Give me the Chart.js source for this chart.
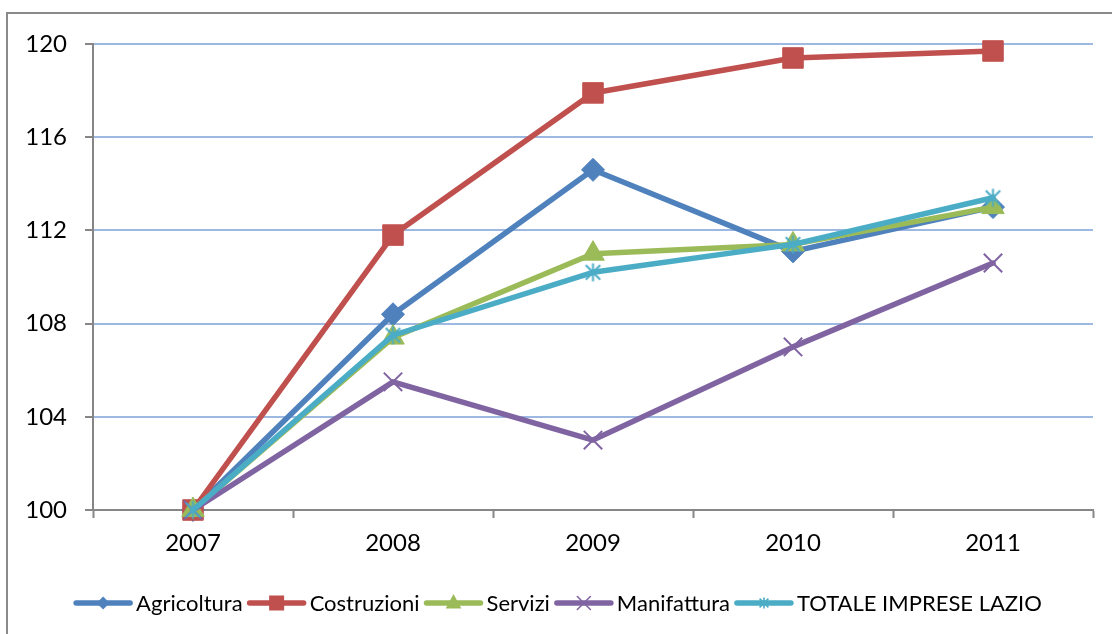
<!DOCTYPE html>
<html>
<head>
<meta charset="utf-8">
<script src="https://cdn.jsdelivr.net/npm/chart.js@4.4.1/dist/chart.umd.min.js"></script>
<style>
  html, body { margin: 0; padding: 0; background: #ffffff; }
  #wrap { position: absolute; left: 0; top: 0; width: 1112px; height: 634px; }
</style>
</head>
<body>
<div id="wrap"><canvas id="c" width="1112" height="634"></canvas></div>
<script>
// ---- data ----
const years = ['2007', '2008', '2009', '2010', '2011'];
const agricoltura = [100, 108.4, 114.6, 111.1, 113.0];
const costruzioni = [100, 111.8, 117.9, 119.4, 119.7];
const servizi     = [100, 107.4, 111.0, 111.4, 113.0];
const manifattura = [100, 105.5, 103.0, 107.0, 110.6];
const totale      = [100, 107.5, 110.2, 111.4, 113.4];
const seriesNames = ['Agricoltura', 'Costruzioni', 'Servizi', 'Manifattura', 'TOTALE IMPRESE LAZIO'];
const yTicks = [100, 104, 108, 112, 116, 120];

const colors = ['#4F81BD', '#C0504D', '#9BBB59', '#8064A2', '#4BACC6'];
const FONT = 'Lato, "Open Sans", sans-serif';

function makeAsterisk(color, size, lw) {
  const c = document.createElement('canvas');
  c.width = size; c.height = size;
  const g = c.getContext('2d');
  g.strokeStyle = color; g.lineWidth = lw; g.lineCap = 'butt';
  const m = size / 2, p = 1.5;
  g.beginPath();
  g.moveTo(m, p); g.lineTo(m, size - p);
  const d = (size / 2 - p) * 0.8;
  g.moveTo(m - d, m - d); g.lineTo(m + d, m + d);
  g.moveTo(m + d, m - d); g.lineTo(m - d, m + d);
  g.stroke();
  return c;
}
const asteriskBig = makeAsterisk(colors[4], 21, 2);
const asteriskSmall = makeAsterisk(colors[4], 14, 1.6);

const seriesData = [agricoltura, costruzioni, servizi, manifattura, totale];
const pointStyles = ['rectRot', 'rect', 'triangle', 'crossRot', asteriskBig];
const pointRadii = [11.5, 14.5, 13, 13, 10];
const pointBW = [1, 1, 1, 2, 2];

const datasets = seriesData.map((d, i) => ({
  label: seriesNames[i],
  data: d,
  borderColor: colors[i],
  backgroundColor: colors[i],
  borderWidth: 5.5,
  borderJoinStyle: 'round',
  borderCapStyle: 'round',
  pointStyle: pointStyles[i],
  pointRadius: pointRadii[i],
  pointHoverRadius: pointRadii[i],
  pointBorderWidth: pointBW[i],
  pointBackgroundColor: colors[i],
  pointBorderColor: colors[i],
  tension: 0,
  order: 5 - i,
  clip: false
}));

// frame + background
const framePlugin = {
  id: 'frame',
  beforeDraw(chart) {
    const ctx = chart.ctx;
    ctx.save();
    ctx.fillStyle = '#ffffff';
    ctx.fillRect(0, 0, chart.width, chart.height);
    ctx.strokeStyle = '#8a8a8a';
    ctx.lineWidth = 2;
    ctx.strokeRect(7, 13, 1200, 700);
    ctx.restore();
  }
};

function drawLegendMarker(ctx, i, x, y) {
  const col = colors[i];
  ctx.save();
  ctx.fillStyle = col; ctx.strokeStyle = col;
  if (i === 0) {
    const r = 6.5;
    ctx.beginPath();
    ctx.moveTo(x, y - r); ctx.lineTo(x + r, y); ctx.lineTo(x, y + r); ctx.lineTo(x - r, y); ctx.closePath();
    ctx.fill();
  } else if (i === 1) {
    const s = 7.5;
    ctx.fillRect(x - s, y - s, 2 * s, 2 * s);
  } else if (i === 2) {
    const r = 9;
    ctx.beginPath();
    ctx.moveTo(x, y - r); ctx.lineTo(x + r * 0.87, y + r * 0.6); ctx.lineTo(x - r * 0.87, y + r * 0.6); ctx.closePath();
    ctx.fill();
  } else if (i === 3) {
    const d = 6.5;
    ctx.lineWidth = 1.6;
    ctx.beginPath();
    ctx.moveTo(x - d, y - d); ctx.lineTo(x + d, y + d);
    ctx.moveTo(x + d, y - d); ctx.lineTo(x - d, y + d);
    ctx.stroke();
  } else {
    ctx.drawImage(asteriskSmall, x - 7, y - 7);
  }
  ctx.restore();
}

const legendPlugin = {
  id: 'customLegend',
  afterDraw(chart) {
    const ctx = chart.ctx;
    ctx.save();
    ctx.font = '22px ' + FONT;
    ctx.textBaseline = 'middle';
    const lineLen = 58, gapText = 4, gapItem = 5;
    const widths = seriesNames.map(n => ctx.measureText(n).width);
    let total = 0;
    widths.forEach(w => { total += lineLen + gapText + w; });
    total += gapItem * (seriesNames.length - 1);
    let x = (chart.width - total) / 2 + 2;
    const y = 603;
    seriesNames.forEach((n, i) => {
      ctx.strokeStyle = colors[i];
      ctx.lineWidth = 5.5;
      ctx.lineCap = 'round';
      ctx.beginPath();
      ctx.moveTo(x + 2, y); ctx.lineTo(x + lineLen - 2, y);
      ctx.stroke();
      drawLegendMarker(ctx, i, x + lineLen / 2, y);
      ctx.fillStyle = '#000000';
      ctx.textAlign = 'left';
      ctx.fillText(n, x + lineLen + gapText, y + 1);
      x += lineLen + gapText + widths[i] + gapItem;
    });
    ctx.restore();
  }
};

new Chart(document.getElementById('c'), {
  type: 'line',
  data: { labels: years, datasets: datasets },
  options: {
    responsive: false,
    animation: false,
    events: [],
    layout: { padding: { left: 0, top: 44, right: 19, bottom: 0 } },
    plugins: { legend: { display: false }, tooltip: { enabled: false }, title: { display: false } },
    scales: {
      x: {
        type: 'category',
        offset: true,
        grid: {
          offset: true,
          drawOnChartArea: false,
          drawTicks: true,
          tickLength: 8,
          tickColor: '#868686',
          tickWidth: 2
        },
        border: { color: '#868686', width: 2 },
        ticks: { color: '#000000', font: { family: FONT, size: 24 }, padding: 11, maxRotation: 0 },
        afterFit(scale) { scale.height = 124; }
      },
      y: {
        min: 100,
        max: 120,
        afterBuildTicks(scale) { scale.ticks = yTicks.map(v => ({ value: v })); },
        grid: {
          color: '#9DB9E2',
          lineWidth: 2,
          drawTicks: true,
          tickLength: 8,
          tickColor: '#868686',
          tickWidth: 2
        },
        border: { color: '#868686', width: 2 },
        ticks: { color: '#000000', font: { family: FONT, size: 24 }, padding: 18 },
        afterFit(scale) { scale.width = 93; }
      }
    }
  },
  plugins: [framePlugin, legendPlugin]
});
</script>
</body>
</html>
